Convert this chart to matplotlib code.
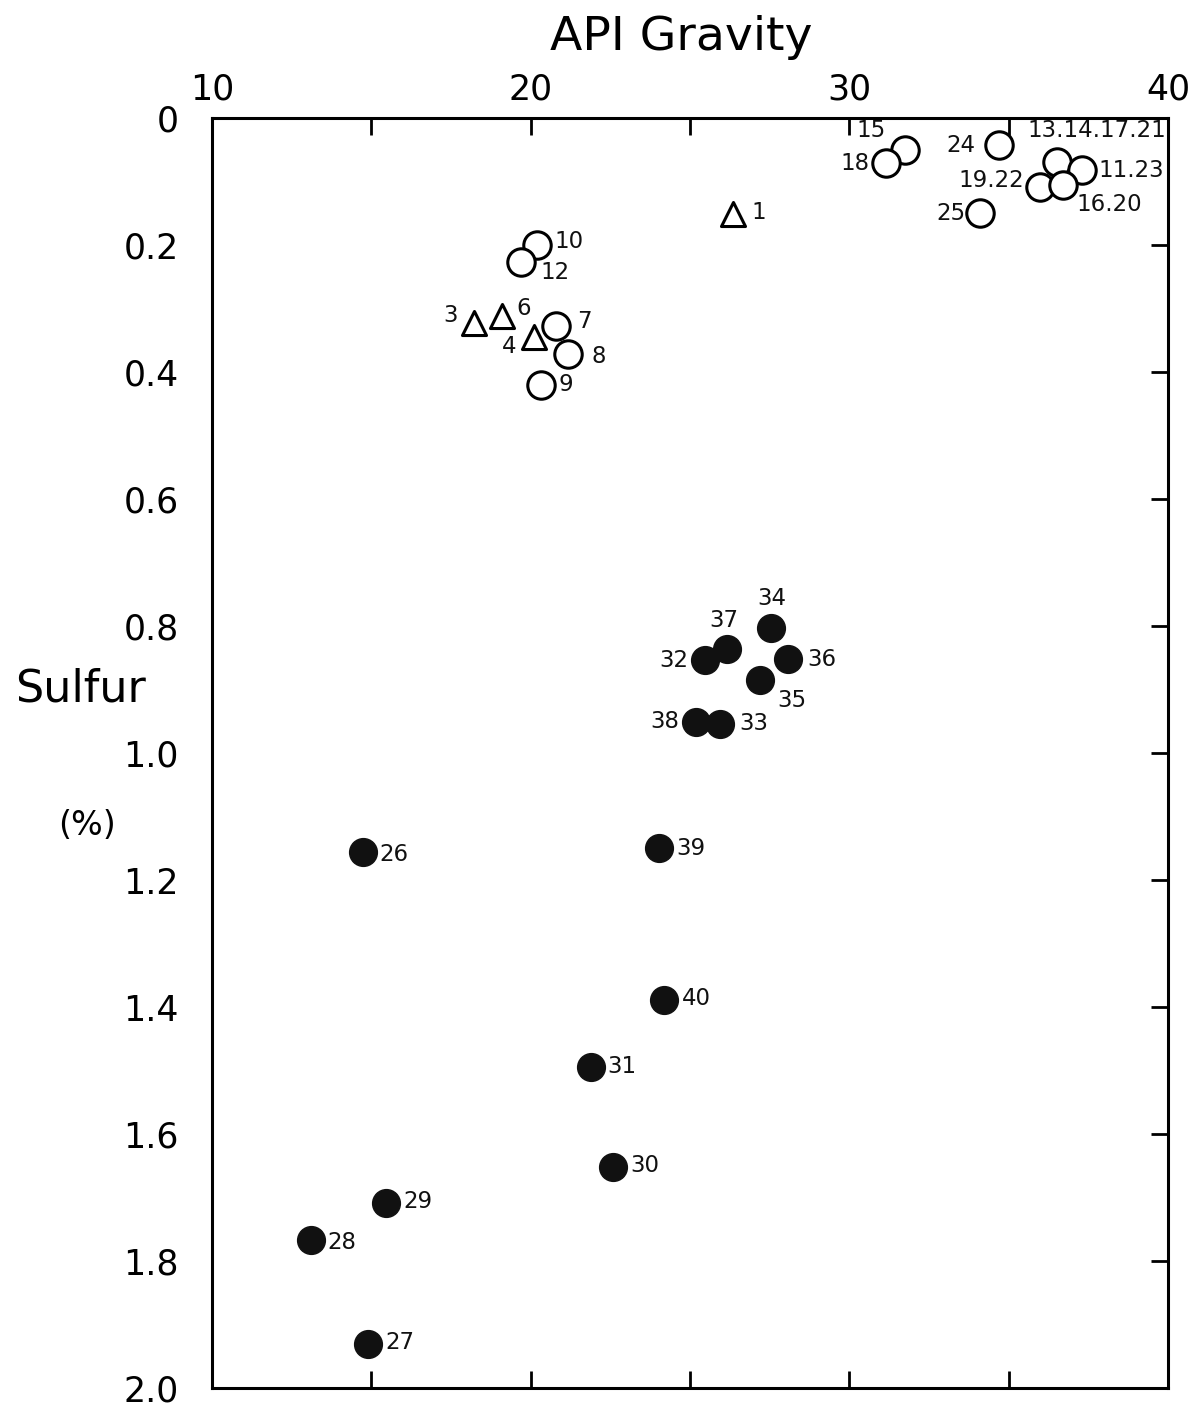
import numpy as np
import matplotlib
matplotlib.use("Agg")
import matplotlib.pyplot as plt

plt.rcParams['font.family'] = ['DejaVu Sans']

# open circles
open_labels = ["15", "18", "24", "13,14,17,21", "11,23", "19,22", "16,20", "25",
               "10", "12", "7", "8", "9"]
open_api = [31.74, 31.15, 34.69, 36.51, 37.30, 35.98, 36.70, 34.10,
            20.20, 19.70, 20.79, 21.17, 20.32]
open_sulfur = [0.050, 0.071, 0.043, 0.069, 0.082, 0.109, 0.105, 0.150,
               0.200, 0.227, 0.328, 0.372, 0.420]

# open triangles
tri_labels = ["1", "3", "6", "4"]
tri_api = [26.35, 18.22, 19.10, 20.10]
tri_sulfur = [0.151, 0.323, 0.312, 0.345]

# filled circles
fill_labels = ["34", "37", "32", "36", "35", "38", "33", "26", "39", "40",
               "31", "30", "29", "28", "27"]
fill_api = [27.54, 26.16, 25.47, 28.07, 27.19, 25.19, 25.94, 14.74, 24.03, 24.18,
            21.89, 22.58, 15.46, 13.11, 14.89]
fill_sulfur = [0.803, 0.836, 0.854, 0.852, 0.885, 0.951, 0.954, 1.156, 1.150, 1.389,
               1.494, 1.652, 1.709, 1.767, 1.931]

x_ticks = [10, 20, 30, 40]
y_ticks = [0, 0.2, 0.4, 0.6, 0.8, 1.0, 1.2, 1.4, 1.6, 1.8, 2.0]
y_ticklabels = ["0", "0.2", "0.4", "0.6", "0.8", "1.0", "1.2", "1.4", "1.6", "1.8", "2.0"]

# label placement: (dx, dy) in pixels, horizontal alignment
label_pos = {
    "15": (-34, 19, "center"), "18": (-31, 0, "center"), "24": (-38, 0, "center"),
    "13,14,17,21": (40, 31, "center"), "11,23": (16, 0, "left"),
    "19,22": (-16, 7, "right"), "16,20": (14, -20, "left"), "25": (-15, 0, "right"),
    "10": (17, 4, "left"), "12": (19, -10, "left"), "7": (21, 5, "left"),
    "8": (24, -2, "left"), "9": (18, 0, "left"),
    "1": (18, 1, "left"), "3": (-16, 8, "right"), "6": (14, 8, "left"),
    "4": (-18, -9, "right"),
    "34": (1, 29, "center"), "37": (-3, 28, "center"), "32": (-17, 0, "right"),
    "36": (19, 0, "left"), "35": (17, -20, "left"), "38": (-17, 0, "right"),
    "33": (19, 0, "left"), "26": (16, -2, "left"), "39": (17, 0, "left"),
    "40": (18, 2, "left"), "31": (16, 0, "left"), "30": (17, 2, "left"),
    "29": (17, 2, "left"), "28": (16, -2, "left"), "27": (18, 2, "left"),
}

fig = plt.figure(figsize=(11.98, 14.07), dpi=100)
ax = fig.add_axes([0.177, 0.0135, 0.798, 0.9026])

ax.scatter(open_api, open_sulfur, s=390, facecolors='white', edgecolors='black',
           linewidths=2.2, zorder=3)
ax.scatter(tri_api, tri_sulfur, s=300, marker='^', facecolors='white',
           edgecolors='black', linewidths=2.2, zorder=3)
ax.scatter(fill_api, fill_sulfur, s=400, color='#111111', zorder=3)

for labels, xs, ys in [(open_labels, open_api, open_sulfur),
                       (tri_labels, tri_api, tri_sulfur),
                       (fill_labels, fill_api, fill_sulfur)]:
    for lab, x, y in zip(labels, xs, ys):
        dx, dy, ha = label_pos[lab]
        ax.annotate(lab.replace(",", "."), (x, y), xytext=(dx, dy),
                    textcoords='offset pixels', ha=ha, va='center',
                    fontsize=16.5, color='#111111')

ax.set_xlim(10, 40)
ax.set_ylim(2.0, 0)

ax.xaxis.tick_top()
ax.set_xticks(x_ticks)
ax.set_xticks([15, 25, 35], minor=True)
ax.tick_params(axis='x', which='both', direction='in', top=True, bottom=True,
               length=12, width=2, labelsize=25, pad=8)
ax.set_yticks(y_ticks)
ax.set_yticklabels(y_ticklabels)
ax.tick_params(axis='y', direction='in', left=False, right=True, length=12,
               width=2, labelsize=25, pad=24)

for sp in ax.spines.values():
    sp.set_linewidth(2.2)

fig.text(0.569, 0.973, "API Gravity", ha='center', va='center', fontsize=34)
fig.text(0.067, 0.510, "Sulfur", ha='center', va='center', fontsize=32)
fig.text(0.073, 0.413, "(%)", ha='center', va='center', fontsize=24)

fig.savefig("out.png", dpi=100, facecolor='white')
